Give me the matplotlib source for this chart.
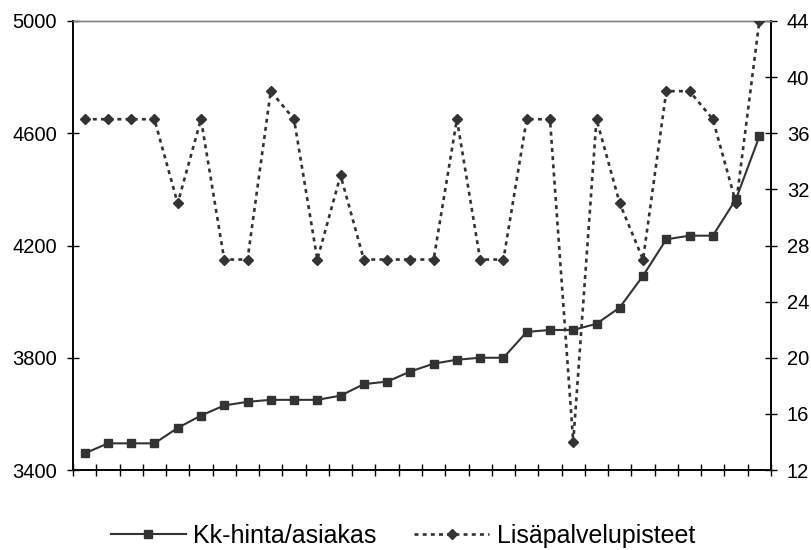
import matplotlib
matplotlib.use("Agg")
import matplotlib.pyplot as plt
import numpy as np

plt.rcParams['font.family'] = ['Liberation Sans', 'DejaVu Sans']

kk_hinta = [3459, 3495, 3495, 3495, 3550, 3594, 3630, 3643, 3650, 3650,
            3650, 3665, 3706, 3715, 3751, 3779, 3793, 3800, 3800, 3892,
            3899, 3899, 3921, 3979, 4092, 4222, 4235, 4235, 4366, 4589]
lisapalvelu = [37, 37, 37, 37, 31, 37, 27, 27, 39, 37,
               27, 33, 27, 27, 27, 27, 37, 27, 27, 37,
               37, 14, 37, 31, 27, 39, 39, 37, 31, 44]
left_ticks = [3400, 3800, 4200, 4600, 5000]
right_ticks = [12, 16, 20, 24, 28, 32, 36, 40, 44]
label1 = "Kk-hinta/asiakas"
label2 = "Lisäpalvelupisteet"

n = len(kk_hinta)
x = np.arange(n) + 0.5

fig = plt.figure(figsize=(8.11, 5.5), dpi=100)
ax = fig.add_axes([73/811, 1-470/550, (771-73)/811, (470-21)/550])
ax2 = ax.twinx()

col = '#333333'
l1, = ax.plot(x, kk_hinta, color=col, lw=1.5, marker='s', ms=5.5, label=label1, zorder=3)
l2, = ax2.plot(x, lisapalvelu, color=col, lw=1.9, ls=(0, (1.5, 1.6)), marker='D', ms=5.5,
               label=label2, zorder=3)

ax.set_xlim(0, n)
ax.set_ylim(3400, 5000)
ax2.set_ylim(12, 44)
ax.set_yticks(left_ticks)
ax2.set_yticks(right_ticks)
ax.set_xticks(np.arange(n + 1))
ax.set_xticklabels([])

for a in (ax, ax2):
    a.tick_params(direction='inout', length=8, width=1, labelsize=14.5, color='black')
ax.tick_params(axis='y', pad=7.5)
ax2.tick_params(axis='y', pad=7.5)
ax.tick_params(axis='x', length=8)

for a in (ax, ax2):
    a.spines['top'].set_color('#808080')
    a.spines['top'].set_linewidth(1.0)
    a.spines['left'].set_linewidth(1.2)
    a.spines['right'].set_linewidth(1.2)
    a.spines['bottom'].set_linewidth(1.2)

fig.legend(handles=[l1, l2], loc='center', bbox_to_anchor=(403/811, 1-536/550), ncol=2,
           frameon=False, fontsize=18, handlelength=3.0, columnspacing=1.5,
           handletextpad=0.3, borderpad=0, borderaxespad=0)

fig.savefig('out.png', dpi=100)
